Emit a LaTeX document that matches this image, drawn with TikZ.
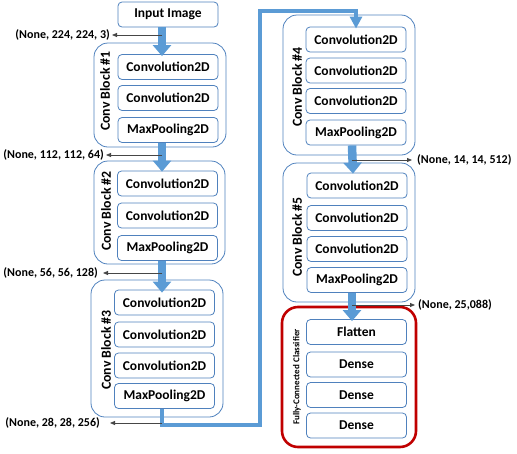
\documentclass[tikz,border=0pt]{standalone}
\usepackage{fontspec}
\setmainfont{Carlito}
\usetikzlibrary{arrows.meta}
\definecolor{boxblue}{RGB}{79,129,189}
\definecolor{arrowblue}{RGB}{91,155,213}
\definecolor{darkred}{RGB}{192,0,0}
\definecolor{lblgray}{RGB}{70,70,70}
\tikzset{
  layer/.style={draw=boxblue, line width=0.8pt, rounded corners=4pt, minimum width=100pt,
    minimum height=25pt, inner sep=0pt, fill=white, font=\fontsize{13.5}{15}\selectfont\bfseries},
  block/.style={draw=boxblue, line width=0.8pt, rounded corners=14pt, inner sep=0pt},
  fcblock/.style={draw=darkred, line width=2.6pt, rounded corners=16pt, inner sep=0pt},
  blocklabel/.style={rotate=90, inner sep=0pt, font=\fontsize{13.8}{15}\selectfont\bfseries},
  fclabel/.style={rotate=90, inner sep=0pt, font=\fontsize{9}{10}\selectfont\bfseries},
  shapelbl/.style={inner sep=0pt, font=\fontsize{12}{14}\selectfont\bfseries},
  fat/.style={draw=arrowblue, line width=8.5pt, -{Triangle[width=18pt,length=11pt]}},
  conn/.style={draw=arrowblue, line width=4pt, -{Triangle[width=12pt,length=12pt]}},
  lbl/.style={draw=lblgray, line width=0.8pt, -{Triangle[length=5pt,width=4pt]}}
}
\begin{document}
\begin{tikzpicture}[x=1pt,y=-1pt]
\useasboundingbox (0,0) rectangle (517,453);
% outer blocks
\node[block, minimum width=132pt, minimum height=104pt] (b1) at (160,95) {};
\node[block, minimum width=131pt, minimum height=103pt] (b2) at (159.5,212.5) {};
\node[block, minimum width=132pt, minimum height=137pt] (b3) at (157,348.5) {};
\node[block, minimum width=132pt, minimum height=140pt] (b4) at (349,85) {};
\node[block, minimum width=132pt, minimum height=139pt] (b5) at (349,232.5) {};
\node[fcblock, minimum width=134pt, minimum height=140pt] (fc) at (349,377) {};
% block labels
\node[blocklabel] (l1) at (105,91) {Conv Block \#1};
\node[blocklabel] (l2) at (106,211) {Conv Block \#2};
\node[blocklabel] (l3) at (106,350) {Conv Block \#3};
\node[blocklabel] (l4) at (297,87) {Conv Block \#4};
\node[blocklabel] (l5) at (297,237) {Conv Block \#5};
\node[fclabel] (l6) at (297,377) {Fully-Connected Classifier};
% input
\node[layer] (in) at (168,14.5) {Input Image};
% block 1
\node[layer] (c1a) at (168,67) {Convolution2D};
\node[layer] (c1b) at (168,98) {Convolution2D};
\node[layer] (m1) at (168,130) {MaxPooling2D};
% block 2
\node[layer] (c2a) at (167.5,183.5) {Convolution2D};
\node[layer] (c2b) at (167.5,215.5) {Convolution2D};
\node[layer] (m2) at (167.5,248) {MaxPooling2D};
% block 3
\node[layer] (c3a) at (164.5,302.5) {Convolution2D};
\node[layer] (c3b) at (164.5,334.5) {Convolution2D};
\node[layer] (c3c) at (164.5,365.5) {Convolution2D};
\node[layer] (m3) at (164.5,396) {MaxPooling2D};
% block 4
\node[layer] (c4a) at (356,39.5) {Convolution2D};
\node[layer] (c4b) at (356,70.5) {Convolution2D};
\node[layer] (c4c) at (356,101) {Convolution2D};
\node[layer] (m4) at (356,132.5) {MaxPooling2D};
% block 5
\node[layer] (c5a) at (357,185.5) {Convolution2D};
\node[layer] (c5b) at (357,218) {Convolution2D};
\node[layer] (c5c) at (357,249) {Convolution2D};
\node[layer] (m5) at (357,280) {MaxPooling2D};
% classifier
\node[layer] (fl) at (356.5,332) {Flatten};
\node[layer] (d1) at (356.5,364.5) {Dense};
\node[layer] (d2) at (356.5,395) {Dense};
\node[layer] (d3) at (356.5,425.5) {Dense};
% thick arrows
\draw[fat] ([xshift=-6pt]in.south) -- ([xshift=-6pt,yshift=-2pt]c1a.north);
\draw[fat] ([xshift=-6pt]m1.south) -- ([xshift=-5.5pt,yshift=-1pt]c2a.north);
\draw[fat] ([xshift=-5.5pt]m2.south) -- ([xshift=-2.5pt,yshift=-3pt]c3a.north);
\draw[fat] ([xshift=-4pt]m4.south) -- ([xshift=-4pt,yshift=-1pt]c5a.north);
\draw[fat] ([xshift=-5pt]m5.south) -- ([xshift=-4.5pt,yshift=-2pt]fl.north);
% connecting line
\coordinate (tb) at (260,425);
\coordinate (tt) at (260,11);
\draw[conn] ([xshift=-2.5pt]m3.south) |- (tb) -- (tt) -| ([yshift=-2pt]c4a.north);
% shape labels
\node[shapelbl, anchor=east] (s1) at (110,35) {(None, 224, 224, 3)};
\node[shapelbl, anchor=east] (s2) at (104,155) {(None, 112, 112, 64)};
\node[shapelbl, anchor=east] (s3) at (98,273) {(None, 56, 56, 128)};
\node[shapelbl, anchor=east] (s4) at (100,423) {(None, 28, 28, 256)};
\node[shapelbl, anchor=west] (s5) at (417,160) {(None, 14, 14, 512)};
\node[shapelbl, anchor=west] (s6) at (418,305) {(None, 25,088)};
\coordinate (p1) at (162,35);
\coordinate (p2) at (162,155);
\coordinate (p3) at (162,273);
\coordinate (p4) at (162,423);
\coordinate (p5) at (352,160);
\coordinate (p6) at (352,305);
\draw[lbl] (p1) -- ([xshift=2pt]s1.east);
\draw[lbl] (p2) -- ([xshift=2pt]s2.east);
\draw[lbl] (p3) -- ([xshift=5pt]s3.east);
\draw[lbl] (p4) -- ([xshift=10pt]s4.east);
\draw[lbl] (p5) -- ([xshift=-5pt]s5.west);
\draw[lbl] (p6) -- ([xshift=-3pt]s6.west);
\end{tikzpicture}
\end{document}
